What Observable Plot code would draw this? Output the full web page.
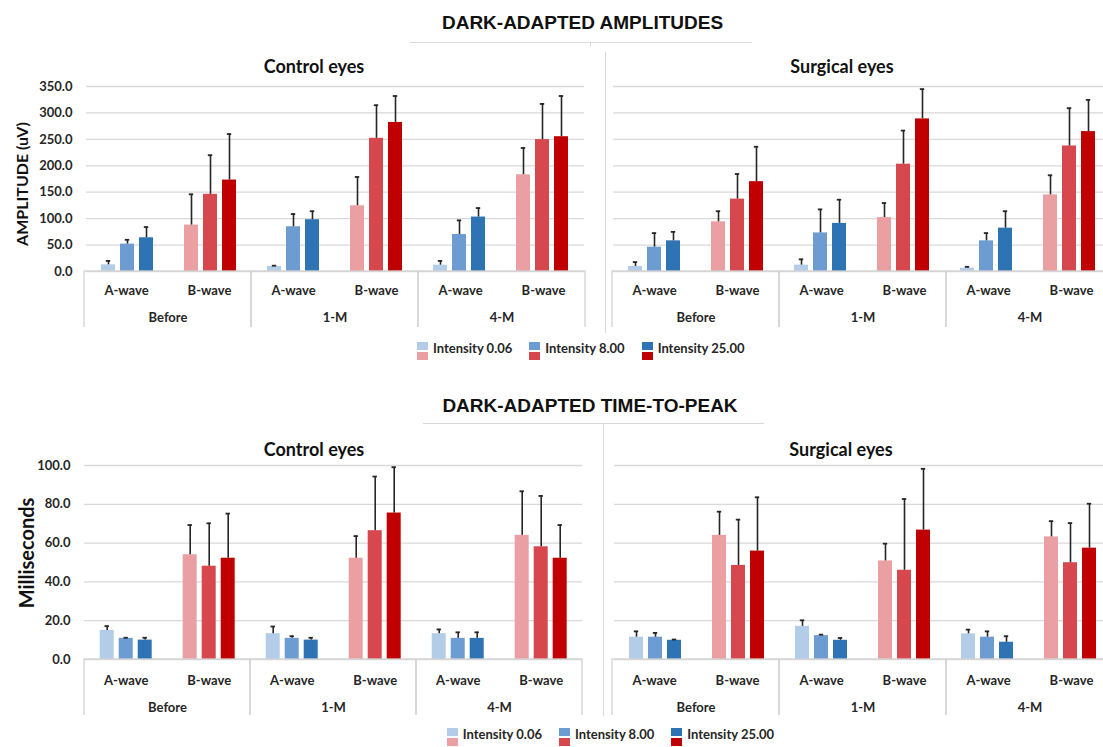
<!DOCTYPE html>
<html><head><meta charset="utf-8">
<script src="https://cdn.jsdelivr.net/npm/d3@7"></script>
<script src="https://cdn.jsdelivr.net/npm/@observablehq/plot@0.6"></script>
<style>
html, body { margin:0; padding:0; background:#fff; }
body { width:1103px; height:747px; overflow:hidden; position:relative; font-family: Lato, sans-serif; }
.abs { position:absolute; }
svg { overflow: hidden !important; max-width: none !important; }
.sec-title { position:absolute; font-family: "Liberation Sans", Arial, sans-serif; font-weight:bold; font-size:19px; color:#111; transform: translate(-50%, -50%); white-space:nowrap; }
.panel-title { position:absolute; font-family: Lato, sans-serif; font-weight:bold; font-size:18px; color:#111; transform: translate(-50%,-50%); white-space:nowrap; }
.ytitle { position:absolute; font-family: Lato, sans-serif; font-weight:bold; transform: translate(-50%,-50%) rotate(-90deg); white-space:nowrap; color:#111; }
.hline { position:absolute; height:0; border-top:1.5px solid #d9d9d9; }
.vline { position:absolute; width:0; border-left:1.5px solid #d9d9d9; }
.legend { position:absolute; display:flex; gap:17px; font-family: Lato, sans-serif; font-weight:bold; font-size:13px; color:#262626; }
.legend .item { display:flex; gap:5px; align-items:flex-start; }
.legend .sw { display:flex; flex-direction:column; gap:2px; }
.legend .sq { width:11px; height:8px; }
.legend .lab { line-height:13px; white-space:nowrap; }
</style>
</head>
<body>
<div id="root"></div>
<script>
// ---------- data ----------
const groups = ["Before", "1-M", "4-M"];
const waves = ["A-wave", "B-wave"];
const intensities = ["Intensity 0.06", "Intensity 8.00", "Intensity 25.00"];
const ampTicks = [0, 50, 100, 150, 200, 250, 300, 350];
const ttpTicks = [0, 20, 40, 60, 80, 100];

// order: group -> wave -> intensity
const ampControlMean  = [12.6, 51.8, 63.8, 87.8, 146.0, 173.0,  9.5, 84.6, 98.0, 124.4, 252.0, 282.0, 12.0, 70.0, 103.0, 183.0, 249.5, 255.0];
const ampControlSD    = [ 7.4,  8.2, 20.2, 58.2,  74.0,  87.0,  1.5, 24.1, 16.0,  54.4,  62.6,  50.0,  8.0, 26.7,  17.0,  50.7,  67.5,  77.0];
const ampSurgicalMean = [ 9.5, 46.0, 58.0, 94.0, 137.0, 170.0, 12.0, 73.0, 91.0, 102.0, 203.0, 288.7,  6.3, 58.0,  82.0, 145.0, 237.5, 264.7];
const ampSurgicalSD   = [ 8.2, 26.6, 17.0, 20.0,  47.5,  66.0, 11.0, 44.5, 44.8,  27.5,  63.6,  56.3,  2.5, 14.6,  32.0,  37.0,  71.5,  60.0];
const ttpControlMean  = [15.0, 10.9, 10.0, 54.0, 48.1, 52.2, 13.3, 10.9, 10.0, 52.2, 66.4, 75.5, 13.3, 10.9, 10.9, 64.0, 58.1, 52.2];
const ttpControlSD    = [ 2.2,  0.3,  1.2, 15.3, 22.1, 23.0,  3.7,  1.1,  1.2, 11.4, 27.9, 23.6,  2.2,  3.1,  3.1, 22.7, 26.2, 17.1];
const ttpSurgicalMean = [11.5, 11.5,  9.9, 64.0, 48.5, 55.9, 17.1, 12.3,  9.9, 50.8, 46.0, 66.7, 13.2, 11.5,  8.9, 63.2, 49.9, 57.4];
const ttpSurgicalSD   = [ 3.0,  2.2,  0.4, 12.2, 23.6, 27.7,  3.1,  0.5,  1.2,  8.9, 36.7, 31.6,  2.2,  3.0,  3.1,  8.1, 20.4, 22.9];

const blueColors = ["#b3cce8", "#6c9cd2", "#2e74b5"];
const redColors  = ["#eaa0a3", "#d7484e", "#c00000"];

// ---------- helpers ----------
const colorKeys = waves.flatMap(w => intensities.map(i => w + " " + i));
const barColors = [...blueColors, ...redColors];
const slots = groups.flatMap(g => waves.map(w => g + "|" + w));

function rowsOf(mean, sd) {
  const rows = []; let k = 0;
  for (const g of groups) for (const w of waves) for (const it of intensities) {
    rows.push({group: g, wave: w, slot: g + "|" + w, intensity: it, key: w + " " + it, mean: mean[k], sd: sd[k]});
    k++;
  }
  return rows;
}

const baseStyle = {fontFamily: "Lato, sans-serif", fontSize: "13px", fontWeight: "bold", color: "#262626", background: "transparent"};

function mainPlot({rows, yMax, yTicks, showY, width, height, marginLeft, marginRight}) {
  return Plot.plot({
    width, height, marginLeft, marginRight, marginTop: 8, marginBottom: 10,
    style: baseStyle,
    fx: {domain: slots, padding: 0, axis: null, label: null},
    x: {domain: intensities, paddingInner: 0.25, paddingOuter: 0.8, axis: null},
    y: {domain: [0, yMax], axis: showY ? "left" : null, ticks: yTicks, tickFormat: d3.format(".1f"), tickSize: 0, tickPadding: 14, label: null},
    color: {domain: colorKeys, range: barColors},
    marks: [
      Plot.ruleY(yTicks, {stroke: "#d9d9d9", strokeWidth: 1.3}),
      Plot.barY(rows, {fx: "slot", x: "intensity", y: "mean", fill: "key"}),
      Plot.ruleX(rows, {fx: "slot", x: "intensity", y1: "mean", y2: d => d.mean + d.sd, stroke: "#262626", strokeWidth: 1.6}),
      Plot.tickY(rows, {fx: "slot", x: "intensity", y: d => d.mean + d.sd, stroke: "#262626", strokeWidth: 1.8, insetLeft: 4.8, insetRight: 4.8})
    ]
  });
}

function axisPlot({width, height, marginLeft, marginRight, dyWave, dyGroup}) {
  const cells = groups.flatMap(g => waves.map(w => ({group: g, wave: w})));
  return Plot.plot({
    width, height, marginLeft, marginRight, marginTop: 1, marginBottom: 0,
    style: baseStyle,
    fx: {domain: groups, padding: 0, axis: null, label: null},
    x: {type: "point", domain: waves, padding: 0.5, axis: null},
    y: {domain: [0, 1], axis: null},
    marks: [
      Plot.barY(groups, {fx: d => d, y1: 1, y2: -1, fill: "none", stroke: "#d3d3d3", strokeWidth: 1.3}),
      Plot.text(cells, {fx: "group", x: "wave", text: "wave", frameAnchor: "top", lineAnchor: "middle", dy: dyWave}),
      Plot.text(groups, {fx: d => d, text: d => d, frameAnchor: "top", lineAnchor: "middle", dy: dyGroup})
    ]
  });
}

const root = document.getElementById("root");
function place(node, left, top) {
  const d = document.createElement("div");
  d.className = "abs"; d.style.left = left + "px"; d.style.top = top + "px";
  d.appendChild(node); root.appendChild(d); return d;
}
function html(cls, text, css) {
  const d = document.createElement("div");
  d.className = cls; if (text != null) d.textContent = text;
  Object.assign(d.style, css); root.appendChild(d); return d;
}
function legend(left, top) {
  const lg = html("legend", null, {left: left + "px", top: top + "px"});
  intensities.forEach((it, i) => {
    const item = document.createElement("div"); item.className = "item";
    const sw = document.createElement("div"); sw.className = "sw";
    const a = document.createElement("div"); a.className = "sq"; a.style.background = blueColors[i];
    const b = document.createElement("div"); b.className = "sq"; b.style.background = redColors[i];
    sw.append(a, b);
    const lab = document.createElement("div"); lab.className = "lab"; lab.textContent = it;
    item.append(sw, lab); lg.appendChild(item);
  });
}

// ---------- top section: amplitudes ----------
html("sec-title", "DARK-ADAPTED AMPLITUDES", {left: "582.5px", top: "22.5px"});
html("hline", null, {left: "410px", top: "42px", width: "342px"});
html("vline", null, {left: "589.5px", top: "42px", height: "5px"});
html("vline", null, {left: "604.5px", top: "52px", height: "281px"});
html("panel-title", "Control eyes", {left: "314px", top: "66px"});
html("panel-title", "Surgical eyes", {left: "842px", top: "66px"});
html("ytitle", "AMPLITUDE (uV)", {left: "21px", top: "183.5px", fontSize: "16px"});

place(mainPlot({rows: rowsOf(ampControlMean, ampControlSD), yMax: 350, yTicks: ampTicks, showY: true, width: 590, height: 203, marginLeft: 83, marginRight: 4}), 0, 78);
place(axisPlot({width: 590, height: 57, marginLeft: 83, marginRight: 4, dyWave: 19, dyGroup: 46.5}), 0, 270);
place(mainPlot({rows: rowsOf(ampSurgicalMean, ampSurgicalSD), yMax: 350, yTicks: ampTicks, showY: false, width: 510, height: 203, marginLeft: 4, marginRight: 4}), 607, 78);
place(axisPlot({width: 510, height: 57, marginLeft: 4, marginRight: 4, dyWave: 19, dyGroup: 46.5}), 607, 270);
legend(417, 342);

// ---------- bottom section: time to peak ----------
html("sec-title", "DARK-ADAPTED TIME-TO-PEAK", {left: "590px", top: "405.5px"});
html("hline", null, {left: "423px", top: "423px", width: "341px"});
html("vline", null, {left: "602.5px", top: "423px", height: "293px"});
html("panel-title", "Control eyes", {left: "314px", top: "449px"});
html("panel-title", "Surgical eyes", {left: "841px", top: "449px"});
html("ytitle", "Milliseconds", {left: "25.5px", top: "552.5px", fontSize: "20px"});

place(mainPlot({rows: rowsOf(ttpControlMean, ttpControlSD), yMax: 100, yTicks: ttpTicks, showY: true, width: 590, height: 212, marginLeft: 83.3, marginRight: 6.7}), 0, 456.5);
place(axisPlot({width: 590, height: 57, marginLeft: 83.3, marginRight: 6.7, dyWave: 21, dyGroup: 48.4}), 0, 657.5);
place(mainPlot({rows: rowsOf(ttpSurgicalMean, ttpSurgicalSD), yMax: 100, yTicks: ttpTicks, showY: false, width: 509, height: 212, marginLeft: 4, marginRight: 4}), 607.5, 456.5);
place(axisPlot({width: 509, height: 57, marginLeft: 4, marginRight: 4, dyWave: 21, dyGroup: 48.4}), 607.5, 657.5);
legend(446.7, 727.5);
</script>
</body></html>
